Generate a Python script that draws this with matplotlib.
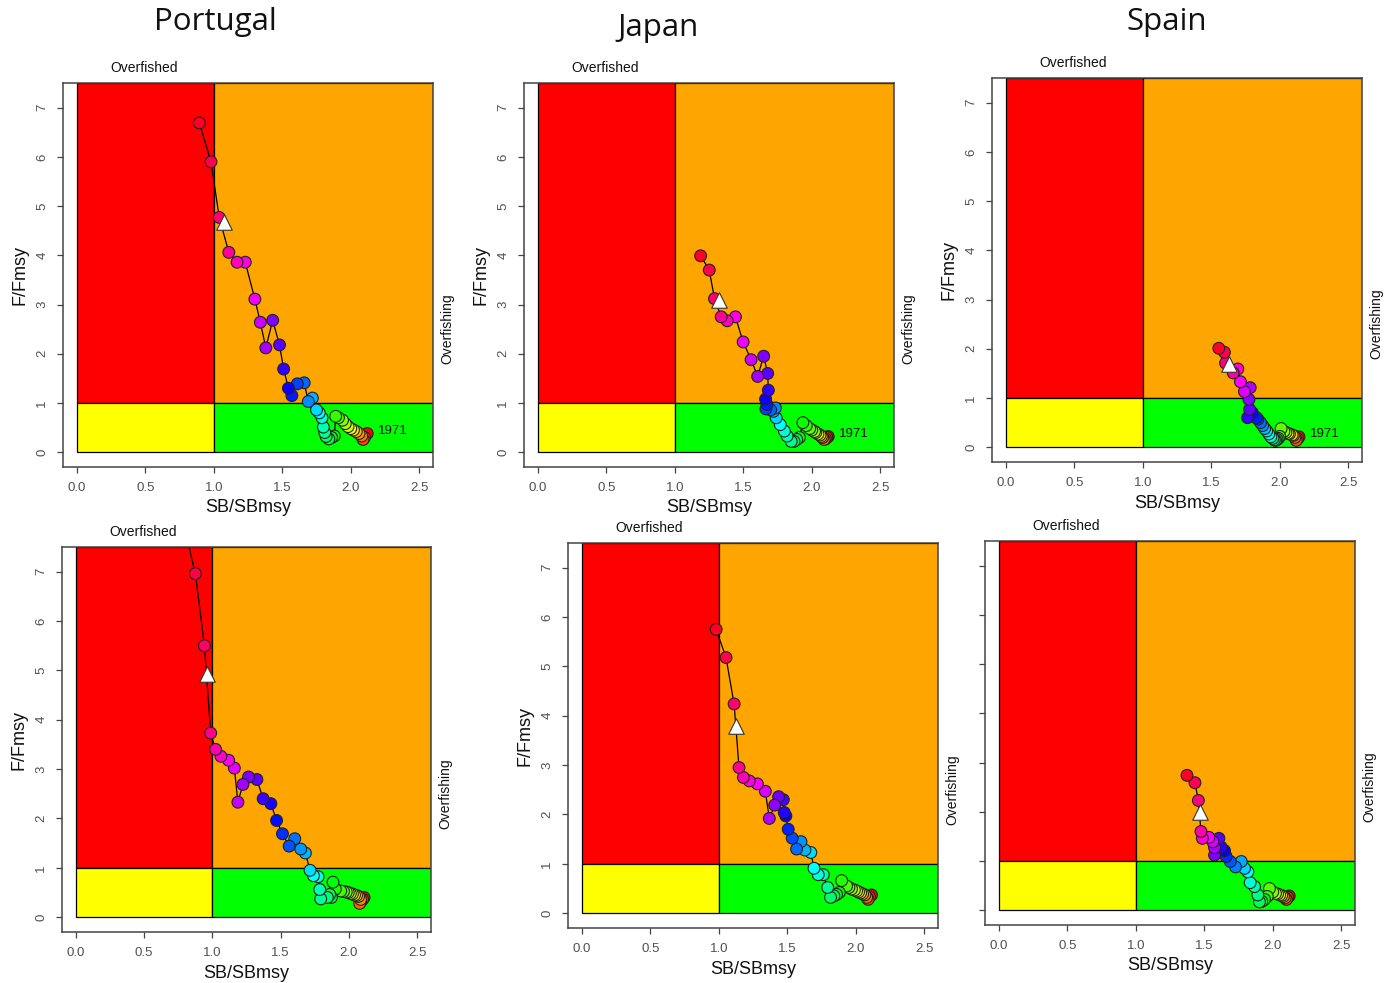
import matplotlib
matplotlib.use("Agg")
import matplotlib.pyplot as plt
import matplotlib.transforms as mtransforms
from matplotlib.patches import Rectangle
from matplotlib.colors import hsv_to_rgb

plt.rcParams['font.family'] = ['Liberation Sans', 'DejaVu Sans']

# ---------------------------------------------------------------- data
countries = ["Portugal", "Japan", "Spain"]
first_year = "1971"
x_ticks = [0.0, 0.5, 1.0, 1.5, 2.0, 2.5]
y_ticks = [0, 1, 2, 3, 4, 5, 6, 7]

# Trajectories, earliest year first: SB/SBmsy and F/Fmsy
por_run1_sb = [2.12, 2.10, 2.09, 2.08, 2.06, 2.04, 2.02, 2.00, 1.98, 1.96,
               1.94, 1.91, 1.89, 1.88, 1.86, 1.84, 1.82, 1.81, 1.80, 1.79,
               1.77, 1.75, 1.72, 1.69, 1.66, 1.61, 1.57, 1.545, 1.51, 1.48,
               1.43, 1.38, 1.34, 1.30, 1.23, 1.17, 1.11, 1.04, 0.98, 0.895]
por_run1_f = [0.38, 0.30, 0.26, 0.33, 0.38, 0.42, 0.45, 0.48, 0.52, 0.58,
              0.65, 0.70, 0.73, 0.33, 0.30, 0.27, 0.32, 0.40, 0.51, 0.70,
              0.80, 0.86, 1.10, 1.03, 1.41, 1.39, 1.15, 1.30, 1.69, 2.18,
              2.68, 2.12, 2.64, 3.11, 3.86, 3.86, 4.06, 4.77, 5.90, 6.69]

jpn_run1_sb = [2.12, 2.11, 2.10, 2.09, 2.08, 2.07, 2.06, 2.045, 2.03, 2.02,
               2.00, 1.985, 1.96, 1.935, 1.91, 1.89, 1.87, 1.85, 1.82, 1.80,
               1.77, 1.74, 1.72, 1.735, 1.70, 1.665, 1.673, 1.663, 1.683, 1.678,
               1.649, 1.605, 1.557, 1.499, 1.443, 1.383, 1.339, 1.29, 1.252, 1.189]
jpn_run1_f = [0.32, 0.30, 0.27, 0.26, 0.30, 0.32, 0.35, 0.37, 0.40, 0.42,
              0.45, 0.48, 0.54, 0.60, 0.30, 0.26, 0.22, 0.22, 0.33, 0.43,
              0.56, 0.70, 0.83, 0.90, 0.86, 0.88, 0.97, 1.08, 1.26, 1.60,
              1.95, 1.54, 1.88, 2.24, 2.75, 2.67, 2.75, 3.12, 3.70, 3.99]

esp_run1_sb = [2.14, 2.13, 2.12, 2.11, 2.10, 2.09, 2.07, 2.06, 2.045, 2.03,
               2.01, 2.00, 1.99, 1.98, 1.97, 1.96, 1.95, 1.935, 1.92, 1.905,
               1.89, 1.875, 1.86, 1.84, 1.83, 1.80, 1.765, 1.78, 1.775, 1.784,
               1.742, 1.713, 1.694, 1.66, 1.604, 1.596, 1.555]
esp_run1_f = [0.21, 0.17, 0.14, 0.20, 0.24, 0.25, 0.27, 0.28, 0.30, 0.32,
              0.38, 0.22, 0.18, 0.16, 0.14, 0.15, 0.18, 0.21, 0.27, 0.33,
              0.38, 0.44, 0.50, 0.57, 0.60, 0.70, 0.60, 0.77, 0.97, 1.21,
              1.13, 1.33, 1.59, 1.51, 1.71, 1.93, 2.01]

por_run2_sb = [2.11, 2.10, 2.085, 2.078, 2.085, 2.07, 2.055, 2.04, 2.025, 2.01,
               1.995, 1.98, 1.96, 1.94, 1.90, 1.883, 1.871, 1.859, 1.842, 1.793,
               1.786, 1.774, 1.74, 1.715, 1.681, 1.647, 1.603, 1.562, 1.513, 1.470,
               1.428, 1.372, 1.326, 1.265, 1.224, 1.187, 1.161, 1.119, 1.063, 1.024,
               0.988, 0.942, 0.876, 0.76]
por_run2_f = [0.40, 0.36, 0.31, 0.28, 0.36, 0.42, 0.44, 0.45, 0.47, 0.48,
              0.50, 0.51, 0.52, 0.53, 0.57, 0.71, 0.40, 0.46, 0.40, 0.37,
              0.56, 0.82, 0.84, 0.95, 1.30, 1.38, 1.59, 1.44, 1.69, 1.96,
              2.30, 2.40, 2.79, 2.84, 2.69, 2.33, 3.02, 3.18, 3.26, 3.40,
              3.73, 5.50, 6.96, 8.30]

jpn_run2_sb = [2.115, 2.10, 2.09, 2.08, 2.066, 2.05, 2.035, 2.02, 2.006, 1.99,
               1.969, 1.95, 1.933, 1.897, 1.88, 1.86, 1.84, 1.816, 1.795, 1.763,
               1.726, 1.695, 1.672, 1.629, 1.600, 1.568, 1.536, 1.507, 1.490, 1.478,
               1.471, 1.437, 1.408, 1.369, 1.340, 1.282, 1.223, 1.180, 1.148, 1.112,
               1.053, 0.981]
jpn_run2_f = [0.37, 0.33, 0.28, 0.32, 0.37, 0.39, 0.41, 0.43, 0.45, 0.47,
              0.49, 0.52, 0.55, 0.66, 0.42, 0.38, 0.35, 0.32, 0.52, 0.78,
              0.78, 0.91, 1.23, 1.28, 1.45, 1.30, 1.52, 1.70, 1.97, 2.04,
              2.30, 2.36, 2.19, 1.92, 2.47, 2.62, 2.68, 2.75, 2.95, 4.24,
              5.18, 5.75]

esp_run2_sb = [2.12, 2.11, 2.10, 2.09, 2.078, 2.065, 2.05, 2.035, 2.02, 2.00,
               1.976, 1.96, 1.94, 1.92, 1.903, 1.891, 1.867, 1.835, 1.818, 1.794,
               1.77, 1.728, 1.69, 1.66, 1.648, 1.624, 1.607, 1.575, 1.575, 1.563,
               1.534, 1.486, 1.476, 1.457, 1.432, 1.374]
esp_run2_f = [0.29, 0.26, 0.22, 0.25, 0.28, 0.30, 0.31, 0.33, 0.34, 0.37,
              0.44, 0.28, 0.22, 0.18, 0.17, 0.31, 0.48, 0.56, 0.78, 0.85,
              0.99, 0.88, 0.99, 1.09, 1.21, 1.28, 1.46, 1.12, 1.27, 1.39,
              1.48, 1.46, 1.60, 2.23, 2.59, 2.74]

# Reference-year markers (white triangles): top row then bottom row
tri_sb = [1.077, 1.32, 1.626, 0.959, 1.126, 1.466]
tri_f = [4.67, 3.09, 1.69, 4.93, 3.79, 1.99]

# ---------------------------------------------------------------- layout
W, H = 1395, 983
fig = plt.figure(figsize=(W / 100, H / 100), dpi=100)

# axes boxes in pixels: left, right, top, bottom
boxes = [
    (63, 433, 83, 467),
    (524, 894, 83, 467),
    (992, 1362, 78, 462),
    (62, 431, 547, 932),
    (568, 938, 543, 928),
    (985, 1355, 541, 925),
]
series = [
    (por_run1_sb, por_run1_f), (jpn_run1_sb, jpn_run1_f), (esp_run1_sb, esp_run1_f),
    (por_run2_sb, por_run2_f), (jpn_run2_sb, jpn_run2_f), (esp_run2_sb, esp_run2_f),
]

XMIN, XMAX = -0.1, 2.6
YMIN, YMAX = -0.3, 7.5
TICK_GREY = "#505050"
FRAME_GREY = "#444444"


def rainbow(n):
    """Equivalent of R's rainbow(n): hues evenly spaced from 0 to (n-1)/n."""
    return [hsv_to_rgb((i / n, 1.0, 1.0)) for i in range(n)]


for k, ((l, r, t, b), (sb, f)) in enumerate(zip(boxes, series)):
    ax = fig.add_axes([l / W, 1 - b / H, (r - l) / W, (b - t) / H])
    ax.set_xlim(XMIN, XMAX)
    ax.set_ylim(YMIN, YMAX)

    # Kobe quadrants
    quads = [
        ((0, 1), 1, YMAX - 1, "#FF0000"),
        ((1, 1), XMAX - 1, YMAX - 1, "#FFA500"),
        ((0, 0), 1, 1, "#FFFF00"),
        ((1, 0), XMAX - 1, 1, "#00FF00"),
    ]
    for xy, w, h, c in quads:
        ax.add_patch(Rectangle(xy, w, h, facecolor=c, edgecolor="black",
                               linewidth=0.9, zorder=1))

    # trajectory
    ax.plot(sb, f, color="black", linewidth=0.9, zorder=2)
    ax.scatter(sb, f, s=72, c=rainbow(len(sb)), edgecolors="#222222",
               linewidths=0.8, zorder=3)
    ax.scatter([tri_sb[k]], [tri_f[k]], marker="^", s=125, facecolor="white",
               edgecolors="#333333", linewidths=0.8, zorder=4)

    if k < 3:
        ax.text(sb[0] + 0.08, f[0] + 0.06, first_year, fontsize=9.5,
                ha="left", va="center", color="#111111", zorder=5)

    # zone labels
    trans_top = mtransforms.blended_transform_factory(ax.transData, ax.transAxes)
    ax.text(0.49, 1 + 15 / (b - t), "Overfished", transform=trans_top,
            ha="center", va="center", fontsize=10, color="#111111")
    trans_right = mtransforms.blended_transform_factory(ax.transAxes, ax.transData)
    ax.text(1 + 14 / (r - l), 2.5, "Overfishing", transform=trans_right,
            rotation=90, ha="center", va="center", fontsize=10, color="#111111")

    # axes styling
    for sp in ax.spines.values():
        sp.set_color(FRAME_GREY)
        sp.set_linewidth(1.1)
    ax.set_xticks(x_ticks)
    ax.set_xticklabels([f"{v:.1f}" for v in x_ticks])
    ax.set_yticks(y_ticks)
    ax.tick_params(axis="both", direction="out", length=4.5, width=0.9,
                   color=FRAME_GREY, labelcolor=TICK_GREY, labelsize=9.5, pad=6)
    ax.tick_params(axis="y", labelrotation=90)
    for lab in ax.get_yticklabels():
        lab.set_va("center")

    ax.set_xlabel("SB/SBmsy", fontsize=13, color="#111111")
    ax.xaxis.set_label_coords(0.5, -41 / (b - t))
    ax.xaxis.label.set_va("center")
    if k == 5:
        ax.set_yticklabels([])
    else:
        ax.set_ylabel("F/Fmsy", fontsize=13, color="#111111")
        ax.yaxis.set_label_coords(-43 / (r - l), 0.5)
        ax.yaxis.label.set_va("center")

# country titles
title_pos = [(215, 22), (658, 28), (1167, 22)]
for name, (px, py) in zip(countries, title_pos):
    fig.text(px / W, 1 - py / H, name, ha="center", va="center",
             fontsize=22.5, family=["Open Sans", "DejaVu Sans"], color="#111111")

fig.savefig("out.png", dpi=100)
